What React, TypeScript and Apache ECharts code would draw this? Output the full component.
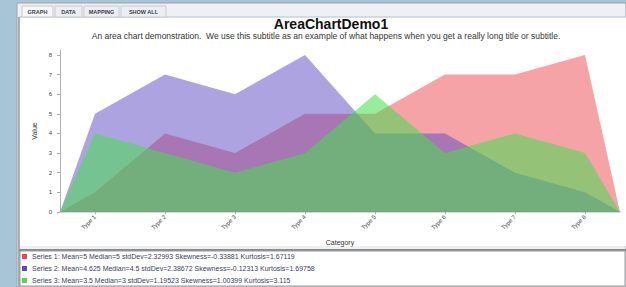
import React, { useEffect, useRef } from "react";
import * as echarts from "echarts";

const categories = ["Type 1", "Type 2", "Type 3", "Type 4", "Type 5", "Type 6", "Type 7", "Type 8"];
const series1 = [1, 4, 3, 5, 5, 7, 7, 8];
const series2 = [5, 7, 6, 8, 4, 4, 2, 1];
const series3 = [4, 3, 2, 3, 6, 3, 4, 3];
const seriesNames = ["Series 1", "Series 2", "Series 3"];
const seriesStats = [
  "Series 1: Mean=5 Median=5 stdDev=2.32993 Skewness=-0.33881 Kurtosis=1.67119",
  "Series 2: Mean=4.625 Median=4.5 stdDev=2.38672 Skewness=-0.12313 Kurtosis=1.69758",
  "Series 3: Mean=3.5 Median=3 stdDev=1.19523 Skewness=1.00399 Kurtosis=3.115",
];
const tabLabels = ["GRAPH", "DATA", "MAPPING", "SHOW ALL"];
const titleText = "AreaChartDemo1";
const subtitleText =
  "An area chart demonstration.  We use this subtitle as an example of what happens when you get a really long title or subtitle.";

const colors = ["rgb(236,72,78)", "rgb(92,72,196)", "rgb(72,222,82)"];
const FONT = "Liberation Sans, Arial, sans-serif";

export default function App() {
  const ref = useRef<HTMLDivElement>(null);
  useEffect(() => {
    document.body.style.margin = "0";
    const chart = echarts.init(ref.current!, null, { renderer: "svg" });
    const allSeries = [series1, series2, series3];
    const n = categories.length;
    const catPositions = categories.map((_, i) => i + 1);

    const tabX = [22, 55, 84, 121];
    const tabW = [31, 27, 35, 45];
    const graphic: any[] = [
      { type: "rect", shape: { x: 0, y: 0, width: 626, height: 287 }, style: { fill: "#a8c5d8" } },
      { type: "rect", shape: { x: 17, y: 3, width: 609, height: 284 }, style: { fill: "#eef0f2", stroke: "#9aa3ab", lineWidth: 1 } },
      { type: "rect", shape: { x: 19, y: 17, width: 607, height: 229 }, style: { fill: "#ffffff" } },
      { type: "line", shape: { x1: 19, y1: 17, x2: 626, y2: 17 }, style: { stroke: "#c6d2e6", lineWidth: 1.5 } },
      { type: "line", shape: { x1: 19, y1: 17, x2: 19, y2: 287 }, style: { stroke: "#8c959e", lineWidth: 1.5 } },
      { type: "line", shape: { x1: 19, y1: 250, x2: 626, y2: 250 }, style: { stroke: "#8a8a8a", lineWidth: 2 } },
      { type: "rect", shape: { x: 20, y: 251, width: 605, height: 35 }, style: { fill: "#ffffff", stroke: "#9a9a9a", lineWidth: 1 } },
    ];
    tabLabels.forEach((t, i) => {
      graphic.push({
        type: "rect",
        shape: { x: tabX[i], y: 6, width: tabW[i], height: 11 },
        style: { fill: i === 0 ? "#f6f6f6" : "#eceef0", stroke: "#c8ccd0", lineWidth: 1 },
      });
      graphic.push({
        type: "text",
        x: tabX[i] + tabW[i] / 2,
        y: 11.5,
        style: {
          text: t,
          fill: "#3a3f4a",
          font: "bold 5.5px " + FONT,
          textAlign: "center",
          textVerticalAlign: "middle",
        },
      });
    });

    chart.setOption({
      animation: false,
      graphic,
      title: [
        {
          text: titleText,
          left: 331,
          top: 17,
          padding: 0,
          textAlign: "center",
          textStyle: { fontFamily: FONT, fontSize: 14, lineHeight: 14, fontWeight: "bold", color: "#111" },
        },
        {
          text: subtitleText,
          left: 326,
          top: 31.5,
          padding: 0,
          textAlign: "center",
          textStyle: { fontFamily: FONT, fontSize: 8.5, lineHeight: 9, fontWeight: "normal", color: "#333" },
        },
      ],
      legend: {
        orient: "vertical",
        left: 22,
        top: 252,
        height: 60,
        padding: 0,
        itemWidth: 5,
        itemHeight: 5,
        itemGap: 3,
        icon: "rect",
        data: seriesNames,
        formatter: (name: string) => seriesStats[seriesNames.indexOf(name)],
        textStyle: { fontFamily: FONT, fontSize: 7, color: "#3a4060", lineHeight: 9 },
      },
      grid: { left: 60, right: 6, top: 50, bottom: 75 },
      xAxis: {
        type: "value",
        min: 0.5,
        max: n + 0.5,
        name: "Category",
        nameLocation: "middle",
        nameGap: 27,
        nameTextStyle: { fontFamily: FONT, fontSize: 7, color: "#333" },
        axisLine: { show: true, onZero: false, lineStyle: { color: "#d8d8d8", width: 2 } },
        axisTick: { show: true, customValues: catPositions, length: 2, lineStyle: { color: "#aaa" } },
        splitLine: { show: false },
        axisLabel: {
          customValues: catPositions,
          rotate: 45,
          fontFamily: FONT,
          fontSize: 6,
          color: "#444",
          margin: 4,
          formatter: (v: number) => categories[Math.round(v) - 1] ?? "",
        },
      },
      yAxis: {
        type: "value",
        min: 0,
        max: 8.25,
        interval: 1,
        name: "Value",
        nameLocation: "middle",
        nameGap: 20,
        nameRotate: 90,
        nameTextStyle: { fontFamily: FONT, fontSize: 7, color: "#333" },
        axisLine: { show: true, lineStyle: { color: "#b0b0b0", width: 1 } },
        axisTick: { show: true, length: 3, lineStyle: { color: "#aaa" } },
        splitLine: { show: false },
        axisLabel: {
          fontFamily: FONT,
          fontSize: 6,
          color: "#444",
          margin: 8,
          showMaxLabel: false,
        },
      },
      series: allSeries.map((vals, si) => ({
        name: seriesNames[si],
        type: "line",
        symbol: "none",
        color: colors[si],
        itemStyle: { color: colors[si] },
        lineStyle: { width: 0, opacity: 0 },
        areaStyle: { color: colors[si], opacity: si === 2 ? 0.56 : 0.5 },
        data: [[0.5, 0], ...vals.map((v, i) => [i + 1, v]), [n + 0.5, 0]],
      })),
    });
    return () => chart.dispose();
  }, []);
  return <div ref={ref} style={{ width: 626, height: 287, position: "absolute", left: 0, top: 0 }} />;
}
